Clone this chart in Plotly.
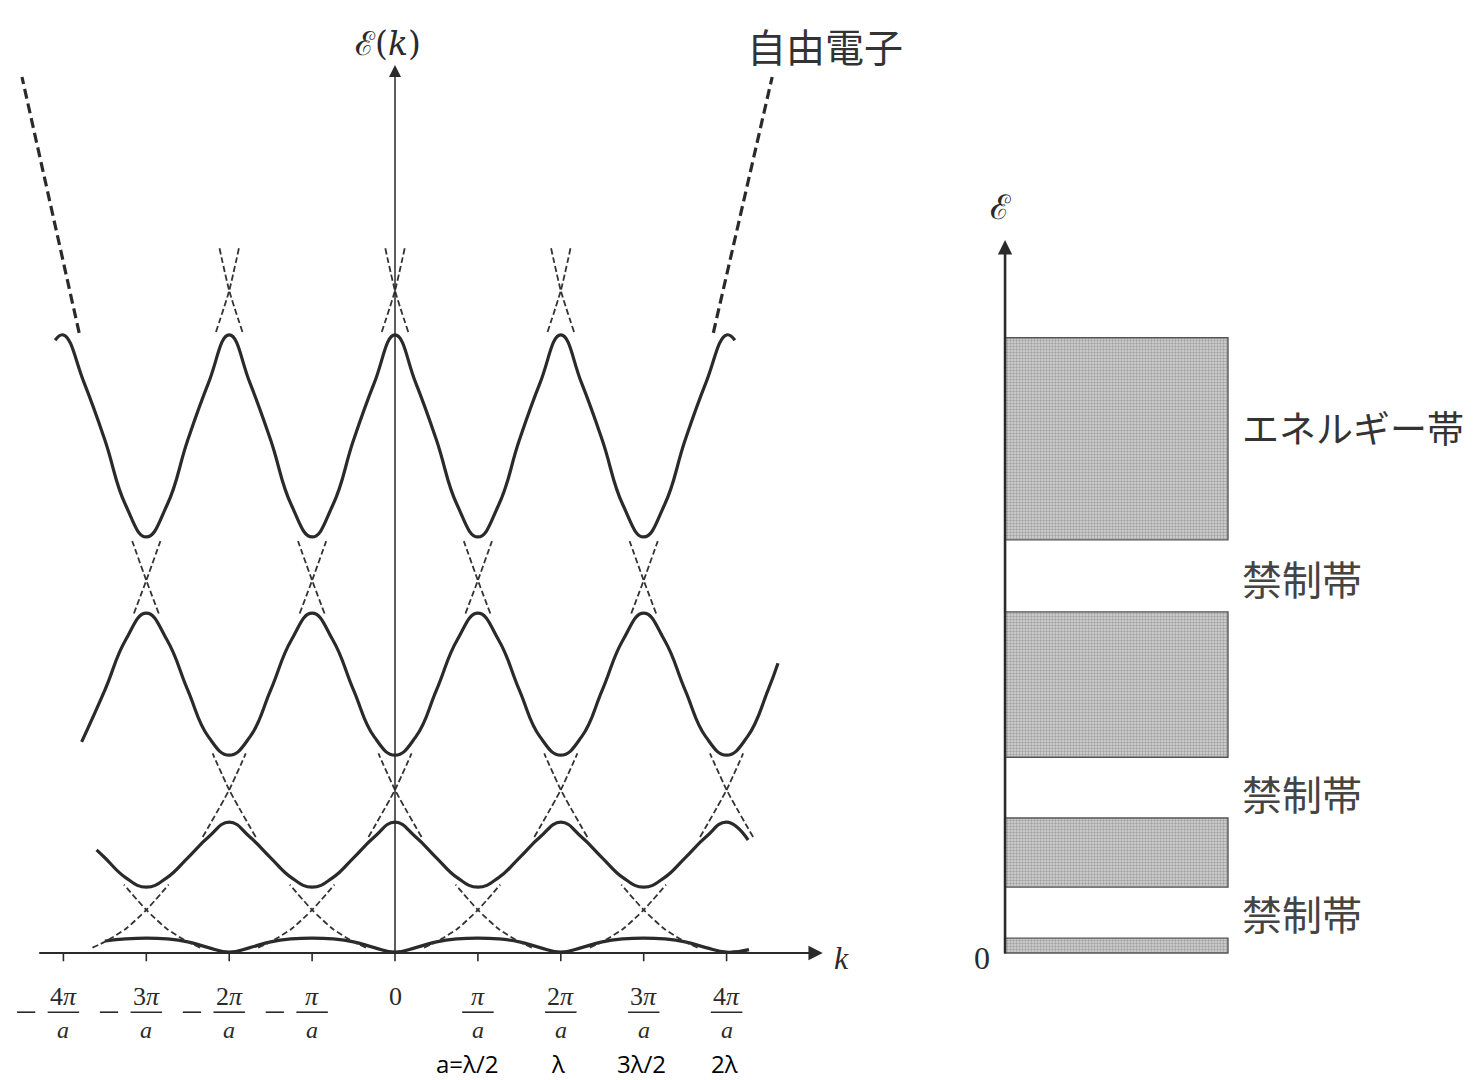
import plotly.graph_objects as go

# ---------------- data ----------------
# k in units of pi/a, energy in units of the free-electron energy at k = pi/a
TICK_K = [-4, -3, -2, -1, 0, 1, 2, 3, 4]
TICK_NUM = ["4<i>π</i>", "3<i>π</i>", "2<i>π</i>", "<i>π</i>", "0",
            "<i>π</i>", "2<i>π</i>", "3<i>π</i>", "4<i>π</i>"]
LAMBDA_K = [1, 2, 3, 4]
LAMBDA_TXT = ["a=λ/2", "λ", "3λ/2", "2λ"]

# one period of each band, read at distances 0, .25, .5, .75, 1 from the nearest even multiple of pi/a
PROFILE_OFFSETS = [0.0, 0.25, 0.5, 0.75, 1.0]
BAND1 = [0.02, 0.13, 0.27, 0.34, 0.36]
BAND2 = [3.16, 2.80, 2.30, 1.82, 1.59]
BAND3 = [4.78, 5.22, 6.35, 7.56, 8.21]
BAND4 = [14.93, 13.77, 12.39, 10.82, 10.05]
# drawn extent of every band: [k_start, E_start, k_end, E_end]
BAND1_ENDS = [-3.5, 0.29, 4.27, 0.08]
BAND2_ENDS = [-3.6, 2.49, 4.26, 2.73]
BAND3_ENDS = [-3.78, 5.10, 4.62, 7.00]
BAND4_ENDS = [-4.1, 14.80, 4.1, 14.80]

# dashed free-electron crossings: positions, crossing energy, upper arm end, lower arm points
X1_K = [-3, -1, 1, 3]; X1_E = 1.04; X1_UP = [(0.27, 1.65)]; X1_DN = [(0.25, 0.58), (0.5, 0.27), (0.65, 0.13)]
X2_K = [-2, 0, 2, 4];  X2_E = 3.94; X2_UP = [(0.2, 4.82)];  X2_DN = [(0.32, 2.80)]
X3_K = [-3, -1, 1, 3]; X3_E = 9.00; X3_UP = [(0.17, 9.95)]; X3_DN = [(0.15, 8.20)]
X4_K = [-2, 0, 2];     X4_E = 16.0; X4_UP = [(0.12, 17.05)]; X4_DN = [(0.16, 15.0)]
# outer free-electron parabola branches
OUTER_L_K = [-3.81, -4.5]; OUTER_L_E = [14.98, 21.16]
OUTER_R_K = [3.84, 4.55];  OUTER_R_E = [14.98, 21.16]

# right panel: allowed energy bands
BAND_BOTTOM = [0.0, 1.59, 4.73, 9.98]
BAND_TOP = [0.36, 3.26, 8.24, 14.86]
GAP_LABEL_E = [9.06, 3.86, 0.97]
BAND_LABEL_E = 12.71

# ---------------- helpers ----------------
def band_knots(profile, ends):
    k0, e0, k1, e1 = ends
    ks, es = [k0], [e0]
    n = -24
    while n <= 24:
        k = n * 0.25
        if k0 + 0.06 < k < k1 - 0.06:
            d = abs(k - 2 * round(k / 2))
            idx = int(round(d / 0.25))
            ks.append(k)
            es.append(profile[idx])
        n += 1
    ks.append(k1); es.append(e1)
    return ks, es


def cross_lines(kcs, e0, up, dn):
    xs, ys = [], []
    for kc in kcs:
        for s in (1, -1):
            px = [kc - s * d for d, _ in reversed(dn)] + [kc] + [kc + s * d for d, _ in up]
            py = [e for _, e in reversed(dn)] + [e0] + [e for _, e in up]
            xs += px + [None]
            ys += py + [None]
    return xs, ys


INK = "#2a2a2a"
fig = go.Figure()

# solid bands
for prof, ends in [(BAND1, BAND1_ENDS), (BAND2, BAND2_ENDS), (BAND3, BAND3_ENDS), (BAND4, BAND4_ENDS)]:
    kx, ey = band_knots(prof, ends)
    fig.add_trace(go.Scatter(x=kx, y=ey, mode="lines",
                             line=dict(color=INK, width=3.2, shape="spline", smoothing=1.3),
                             hoverinfo="skip"))

# dashed free-electron parts
for kcs, e0, up, dn in [(X1_K, X1_E, X1_UP, X1_DN), (X2_K, X2_E, X2_UP, X2_DN),
                        (X3_K, X3_E, X3_UP, X3_DN), (X4_K, X4_E, X4_UP, X4_DN)]:
    xs, ys = cross_lines(kcs, e0, up, dn)
    fig.add_trace(go.Scatter(x=xs, y=ys, mode="lines", connectgaps=False,
                             line=dict(color="#333333", width=1.8, dash="6px,3px",
                                       shape="spline", smoothing=0.6),
                             hoverinfo="skip"))
for kx, ey in [(OUTER_L_K, OUTER_L_E), (OUTER_R_K, OUTER_R_E)]:
    fig.add_trace(go.Scatter(x=kx, y=ey, mode="lines",
                             line=dict(color="#2a2a2a", width=3.2, dash="10px,5px"),
                             hoverinfo="skip"))

# tick marks, fraction bars and minus signs
tx, ty, bx, by = [], [], [], []
for k in TICK_K:
    tx += [k, k, None]; ty += [0, -0.2, None]
    if k != 0:
        bx += [k - 0.19, k + 0.19, None]; by += [-1.43, -1.43, None]
    if k < 0:
        bx += [k - 0.56, k - 0.34, None]; by += [-1.43, -1.43, None]
fig.add_trace(go.Scatter(x=tx, y=ty, mode="lines", line=dict(color=INK, width=1.6), hoverinfo="skip"))
fig.add_trace(go.Scatter(x=bx, y=by, mode="lines", line=dict(color=INK, width=1.6), hoverinfo="skip"))

# right panel bars
fig.add_trace(go.Bar(x=[0.5] * len(BAND_BOTTOM), y=[t - b for t, b in zip(BAND_TOP, BAND_BOTTOM)],
                     base=BAND_BOTTOM, width=[1.0] * len(BAND_BOTTOM),
                     xaxis="x2", yaxis="y",
                     marker=dict(color="#c8c8c8",
                                 line=dict(color="#555555", width=1.4),
                                 pattern=dict(shape=".", fgcolor="#6e6e6e", bgcolor="#d6d6d6",
                                              size=3, solidity=0.5)),
                     hoverinfo="skip"))

SERIF = "Liberation Serif, DejaVu Serif, serif"
ann = []
# axes arrows
ann.append(dict(x=5.16, y=0, ax=-4.31, ay=0, xref="x", yref="y", axref="x", ayref="y",
                text="", showarrow=True, arrowhead=2, arrowsize=1.3, arrowwidth=2.2, arrowcolor=INK))
ann.append(dict(x=0, y=21.45, ax=0, ay=0, xref="x", yref="y", axref="x", ayref="y",
                text="", showarrow=True, arrowhead=2, arrowsize=1.6, arrowwidth=1.5, arrowcolor=INK))
ann.append(dict(x=0, y=17.22, ax=0, ay=-0.05, xref="x2", yref="y", axref="x2", ayref="y",
                text="", showarrow=True, arrowhead=2, arrowsize=1.1, arrowwidth=2.6, arrowcolor=INK))

# tick labels
for k, t in zip(TICK_K, TICK_NUM):
    ann.append(dict(x=k, y=-1.04, xref="x", yref="y", text=t, showarrow=False,
                    font=dict(family=SERIF, size=26, color=INK)))
    if k != 0:
        ann.append(dict(x=k, y=-1.86, xref="x", yref="y", text="<i>a</i>", showarrow=False,
                        font=dict(family=SERIF, size=24, color=INK)))
LAM_FONT = dict(family="Open Sans, Lato, sans-serif", size=24, color="#000")
for i, (k, t) in enumerate(zip(LAMBDA_K, LAMBDA_TXT)):
    if i == 0:
        ann.append(dict(x=k + 0.27, y=-2.67, xref="x", yref="y", text=t, showarrow=False,
                        xanchor="right", font=LAM_FONT))
    else:
        ann.append(dict(x=k - 0.03, y=-2.67, xref="x", yref="y", text=t, showarrow=False,
                        font=LAM_FONT))

# axis labels
ann.append(dict(x=-0.08, y=21.98, xref="x", yref="y", text="ℰ(<i>k</i>)", showarrow=False,
                font=dict(family="DejaVu Serif, serif", size=33, color=INK)))
ann.append(dict(x=5.39, y=-0.12, xref="x", yref="y", text="<i>k</i>", showarrow=False,
                font=dict(family=SERIF, size=32, color=INK)))
ann.append(dict(x=5.19, y=21.93, xref="x", yref="y", text="自由電子", showarrow=False,
                font=dict(family="Noto Sans CJK JP", size=39, color="#333")))
ann.append(dict(x=-0.022, y=18.02, xref="x2", yref="y", text="ℰ", showarrow=False,
                font=dict(family="DejaVu Serif, serif", size=34, color=INK)))
ann.append(dict(x=-0.105, y=-0.12, xref="x2", yref="y", text="0", showarrow=False,
                font=dict(family=SERIF, size=32, color=INK)))
ann.append(dict(x=1.054, y=BAND_LABEL_E, xref="x2", yref="y", text="エネルギー帯", showarrow=False,
                xanchor="left", font=dict(family="Noto Sans CJK JP", size=37, color="#333")))
for e in GAP_LABEL_E:
    ann.append(dict(x=1.054, y=e, xref="x2", yref="y", text="禁制帯", showarrow=False,
                    xanchor="left", font=dict(family="Noto Sans CJK JP", size=40, color="#444")))

fig.update_layout(
    width=1477, height=1080, margin=dict(l=0, r=0, t=0, b=0),
    paper_bgcolor="white", plot_bgcolor="white", showlegend=False,
    xaxis=dict(domain=[0, 886 / 1477], range=[-4.765, 5.923], visible=False),
    xaxis2=dict(domain=[886 / 1477, 1], range=[-0.534, 2.117], visible=False, anchor="y"),
    yaxis=dict(domain=[0, 1], range=[-3.068, 23.02], visible=False),
    annotations=ann,
)

fig.write_html("out.html")
